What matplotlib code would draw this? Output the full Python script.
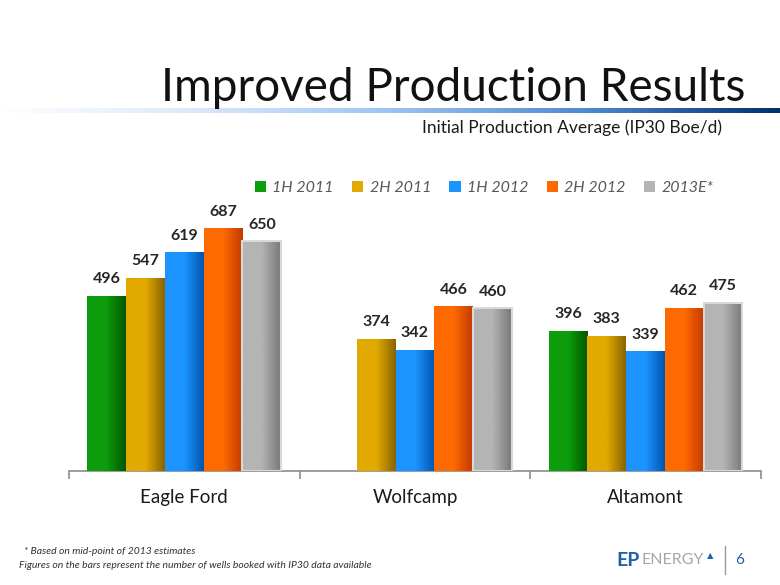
import numpy as np
import matplotlib.pyplot as plt
from matplotlib.colors import LinearSegmentedColormap

# chart data
categories = ["Eagle Ford", "Wolfcamp", "Altamont"]
series = ["1H 2011", "2H 2011", "1H 2012", "2H 2012", "2013E*"]
values = {
    "1H 2011": [496, np.nan, 396],
    "2H 2011": [547, 374, 383],
    "1H 2012": [619, 342, 339],
    "2H 2012": [687, 466, 462],
    "2013E*": [650, 460, 475],
}
# light edge -> dark edge for each series
shades = {
    "1H 2011": ("#0c9c0c", "#005800"),
    "2H 2011": ("#e2aa00", "#8a6400"),
    "1H 2012": ("#1c94ff", "#0056b0"),
    "2H 2012": ("#ff6a00", "#c23a00"),
    "2013E*": ("#b4b4b4", "#787878"),
}

plt.rcParams["font.family"] = ["Lato", "DejaVu Sans"]

fig = plt.figure(figsize=(7.8, 5.85), dpi=100)
ax = fig.add_axes([0.0885, 0.1949, 0.887, 0.4831])

x = np.arange(len(categories))
width = 0.168
offsets = (np.arange(len(series)) - 2) * width

for i, s in enumerate(series):
    vals = np.array(values[s], dtype=float)
    c1, c2 = shades[s]
    cmap = LinearSegmentedColormap.from_list(s, [c1, c1, c2])
    bars = ax.bar(x + offsets[i], np.nan_to_num(vals), width, color=c1,
                  edgecolor="none", label=s, zorder=2)
    for b, v in zip(bars, vals):
        if np.isnan(v):
            b.set_visible(False)
            continue
        x0, y0 = b.get_x(), b.get_y()
        grad = np.linspace(0, 1, 64).reshape(1, -1)
        im = ax.imshow(grad, cmap=cmap, aspect="auto", zorder=3,
                       extent=[x0, x0 + b.get_width(), y0, y0 + b.get_height()])
        im.set_clip_path(b)
        if s == "2013E*":
            ax.bar(b.get_x() + b.get_width() / 2, v, b.get_width(),
                   facecolor="none", edgecolor="#d9d9d9", linewidth=1.5, zorder=4)
        ax.annotate(f"{int(v)}", (b.get_x() + b.get_width() / 2, v),
                    xytext=(0, 7), textcoords="offset points", ha="center",
                    va="bottom", fontsize=11.5, fontweight="bold",
                    color="#262626", zorder=5)

ax.set_xlim(-0.5, 2.5)
ax.set_ylim(0, 800)
for side in ["top", "left", "right"]:
    ax.spines[side].set_visible(False)
ax.spines["bottom"].set_color("#8c8c8c")
ax.spines["bottom"].set_linewidth(1.2)
ax.set_yticks([])
ax.set_xticks([-0.5, 0.5, 1.5, 2.5])
ax.set_xticklabels([])
ax.tick_params(axis="x", length=6, width=1.2, color="#8c8c8c", direction="out")
for xi, c in zip(x, categories):
    ax.text(xi, -0.095, c, transform=ax.get_xaxis_transform(), ha="center",
            va="center", fontsize=13.5, color="#1a1a1a")

leg = ax.legend(loc="lower center", bbox_to_anchor=(0.6, 0.925), ncol=5,
                frameon=False, handlelength=0.7, handleheight=0.7,
                handletextpad=0.4, columnspacing=1.15,
                prop={"style": "italic", "size": 11.5})
for t in leg.get_texts():
    t.set_color("#595959")

# header
fig.text(0.955, 0.828, "Improved Production Results", ha="right", va="baseline",
         fontsize=33, color="#111111")
band = np.linspace(0, 1, 256).reshape(1, -1)
band_cmap = LinearSegmentedColormap.from_list(
    "band", ["#ffffff", "#dbe8f9", "#9cc4f2", "#4f8ad0", "#00306e"])
bax = fig.add_axes([0.0, 0.806, 1.0, 0.009])
bax.imshow(band, cmap=band_cmap, aspect="auto")
bax.axis("off")
fig.text(0.925, 0.781, "Initial Production Average (IP30 Boe/d)", ha="right",
         va="center", fontsize=12.5, color="#1a1a1a")

# footer
fig.text(0.031, 0.057, "* Based on mid-point of 2013 estimates", fontsize=7.5,
         style="italic", color="#333333", va="center")
fig.text(0.024, 0.034, "Figures on the bars represent the number of wells booked "
         "with IP30 data available", fontsize=7.5, style="italic",
         color="#333333", va="center")
fig.text(0.79, 0.042, "EP", fontsize=14, fontweight="bold", color="#1f5fa8",
         va="center")
fig.text(0.823, 0.042, "ENERGY", fontsize=11.5, color="#a6a6a6", va="center")
fig.text(0.906, 0.05, "\u25b2", fontsize=6, color="#1f5fa8", va="center")
fig.add_artist(plt.Line2D([0.93, 0.93], [0.018, 0.066], color="#999999",
                          linewidth=1, transform=fig.transFigure))
fig.text(0.942, 0.042, "6", fontsize=11, color="#1f5fa8", va="center")

fig.savefig("out.png", dpi=100)
